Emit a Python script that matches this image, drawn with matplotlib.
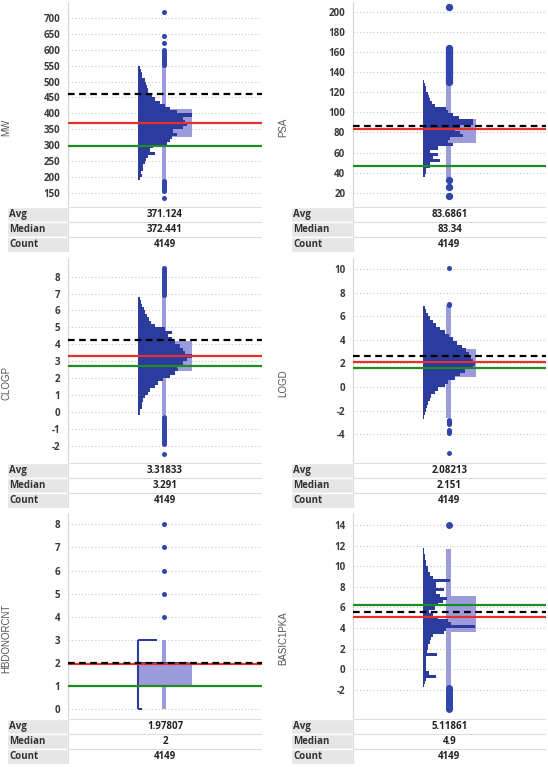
import numpy as np
import matplotlib
matplotlib.use("Agg")
import matplotlib.pyplot as plt
from matplotlib.patches import Rectangle

plt.rcParams['font.family'] = ['Open Sans', 'DejaVu Sans']
plt.rcParams['axes.unicode_minus'] = False

# ---------------- data ----------------
# histogram bin counts, bottom bin first
mw_hist = [5, 12, 8, 15, 15, 20, 22, 28, 50, 35, 45, 85, 95, 100, 115, 105, 135, 145,
           140, 135, 160, 115, 95, 80, 65, 50, 40, 30, 28, 25, 22, 20, 12, 10, 8, 6]
mw_bin = (190, 10)
psa_hist = [5, 8, 10, 20, 22, 50, 30, 45, 20, 45, 90, 75, 80, 120, 110, 95, 110, 150,
            150, 108, 90, 75, 70, 35, 28, 22, 18, 15, 10, 8, 6, 4]
psa_bin = (36, 3)
clogp_hist = [5, 6, 10, 12, 15, 20, 28, 35, 50, 60, 75, 95, 110, 120, 115, 135, 145, 160,
              140, 135, 125, 110, 100, 90, 100, 80, 50, 38, 32, 26, 20, 16, 12, 8, 5]
clogp_bin = (-0.2, 0.2)
logd_hist = [4, 6, 10, 12, 14, 20, 25, 35, 45, 65, 75, 95, 110, 125, 150, 157, 152, 145,
             140, 130, 118, 102, 90, 78, 65, 50, 38, 30, 22, 15, 10, 6]
logd_bin = (-2.7, 0.3)
hbd_values = [0, 1, 2, 3]
hbd_hist = [12, 77, 150, 55]
pka_hist = [4, 6, 8, 38, 18, 8, 8, 10, 8, 10, 42, 12, 14, 16, 20, 24, 30, 62, 70, 157,
            85, 75, 45, 30, 18, 35, 45, 60, 72, 50, 40, 62, 40, 40, 82, 30, 22, 15, 14,
            10, 8, 6, 5, 4, 3]
pka_bin = (-1.7, 0.3)

# box plot: whisker low, q1, q3, whisker high
mw_box = [191, 327, 414, 549]
psa_box = [35, 69.3, 93.2, 128]
clogp_box = [-0.19, 2.42, 4.19, 6.86]
logd_box = [-2.6, 0.88, 3.23, 6.95]
hbd_box = [0, 1.01, 2.06, 3]
pka_box = [-1.7, 3.66, 7.15, 11.64]

# outliers
mw_out = [135, 156, 160, 164, 168, 172, 176, 180, 184, 187, 553, 556, 560, 563, 567, 570,
          574, 578, 582, 586, 590, 594, 598, 622, 642, 720]
psa_out = [17, 26, 33, 130, 132, 134, 136, 138, 140, 142, 144, 146, 148, 150, 152, 154,
           156, 158, 160, 162, 164, 205]
clogp_out = [-2.5, -1.9, -1.8, -1.7, -1.6, -1.5, -1.4, -1.3, -1.2, -1.1, -1.0, -0.9, -0.8,
             -0.7, -0.6, -0.5, -0.4, -0.3, 6.9, 7.0, 7.1, 7.2, 7.3, 7.4, 7.5, 7.6, 7.7,
             7.8, 7.9, 8.0, 8.1, 8.2, 8.3, 8.4, 8.5]
logd_out = [-5.6, -3.9, -3.8, -3.7, -3.6, -3.15, -3.05, -2.95, -2.85, -2.75, 6.95, 7.05, 10.05]
hbd_out = [4, 5, 6, 7, 8]
pka_out = [-3.8, -3.7, -3.6, -3.5, -3.4, -3.3, -3.2, -3.1, -3.0, -2.9, -2.8, -2.7, -2.6,
           -2.5, -2.4, -2.3, -2.2, -2.1, -2.0, -1.9, -1.8, 14.0]

# reference lines: dashed black, average (red), green
mw_lines = [460, 371.124, 297]
psa_lines = [86, 83.6861, 47]
clogp_lines = [4.25, 3.31833, 2.7]
logd_lines = [2.6, 2.08213, 1.65]
hbd_lines = [2.0, 1.97807, 1.0]
pka_lines = [5.6, 5.11861, 6.25]

names = ["MW", "PSA", "CLOGP", "LOGD", "HBDONORCNT", "BASIC1PKA"]
avg_labels = ["371.124", "83.6861", "3.31833", "2.08213", "1.97807", "5.11861"]
median_labels = ["372.441", "83.34", "3.291", "2.151", "2", "4.9"]
count_labels = ["4149", "4149", "4149", "4149", "4149", "4149"]

mw_ticks = [150, 200, 250, 300, 350, 400, 450, 500, 550, 600, 650, 700]
psa_ticks = [20, 40, 60, 80, 100, 120, 140, 160, 180, 200]
clogp_ticks = [-2, -1, 0, 1, 2, 3, 4, 5, 6, 7, 8]
logd_ticks = [-4, -2, 0, 2, 4, 6, 8, 10]
hbd_ticks = [0, 1, 2, 3, 4, 5, 6, 7, 8]
pka_ticks = [-2, 0, 2, 4, 6, 8, 10, 12, 14]

# ---------------- layout / style ----------------
W, H = 548, 767
HIST = '#2b3c9e'
BOX = '#9c9cdc'
DOT = '#3146ad'
RED = '#e8302a'
GREEN = '#1e8c1e'
XW = 582.0
HIST_BASE, WHISK_X, WHISK_W, BOX_R = 0.363, 0.495, 0.024, 0.638


def frect(x0, y0, x1, y1):
    return [x0 / W, 1 - y1 / H, (x1 - x0) / W, (y1 - y0) / H]


def bins(hist, spec):
    start, width = spec
    return start + width * np.arange(len(hist)), width


panels = [
    dict(hist=bins(mw_hist, mw_bin), box=mw_box, out=mw_out, lines=mw_lines,
         ticks=mw_ticks, ylim=(106, 750), ms=3.6),
    dict(hist=bins(psa_hist, psa_bin), box=psa_box, out=psa_out, lines=psa_lines,
         ticks=psa_ticks, ylim=(5.7, 210), ms=5.3),
    dict(hist=bins(clogp_hist, clogp_bin), box=clogp_box, out=clogp_out, lines=clogp_lines,
         ticks=clogp_ticks, ylim=(-3.02, 9.1), ms=3.6),
    dict(hist=bins(logd_hist, logd_bin), box=logd_box, out=logd_out, lines=logd_lines,
         ticks=logd_ticks, ylim=(-6.43, 10.93), ms=3.6),
    dict(hist=(np.array(hbd_values) - 0.04, 0.08), box=hbd_box, out=hbd_out,
         lines=hbd_lines, ticks=hbd_ticks, ylim=(-0.42, 8.49), ms=3.6),
    dict(hist=bins(pka_hist, pka_bin), box=pka_box, out=pka_out, lines=pka_lines,
         ticks=pka_ticks, ylim=(-4.81, 15.16), ms=5.0),
]
hists = [mw_hist, psa_hist, clogp_hist, logd_hist, hbd_hist, pka_hist]

cols = [dict(x0=68, x1=262, lab0=7, ylab=6),
        dict(x0=353, x1=546, lab0=291, ylab=283)]
rows = [dict(top=2, bot=207, tbot=252),
        dict(top=258, bot=463, tbot=508),
        dict(top=513, bot=719, tbot=764)]

fig = plt.figure(figsize=(W / 100, H / 100), dpi=100)

for i, p in enumerate(panels):
    c = cols[i % 2]
    r = rows[i // 2]
    ax = fig.add_axes(frect(c['x0'], r['top'], c['x1'], r['bot']))
    ax.set_xlim(-HIST_BASE * XW, (1 - HIST_BASE) * XW)
    ax.set_ylim(*p['ylim'])
    for s in ['top', 'right', 'bottom']:
        ax.spines[s].set_visible(False)
    ax.spines['left'].set_color('#d6d6d6')
    ax.set_xticks([])
    ax.set_yticks(p['ticks'])
    ax.tick_params(axis='y', length=0, pad=5.5, labelsize=7, labelcolor='#3a3a3a')
    for lbl in ax.get_yticklabels():
        lbl.set_fontweight('bold')
    ax.yaxis.grid(True, linestyle=(0, (1, 2)), color='#c8c8c8', lw=0.8)
    ax.set_axisbelow(True)

    tr = ax.get_yaxis_transform()
    lo, q1, q3, hi = p['box']
    ax.add_patch(Rectangle((WHISK_X - WHISK_W / 2, lo), WHISK_W, hi - lo,
                           transform=tr, color=BOX, lw=0, zorder=2))
    box_l = HIST_BASE if i == 4 else WHISK_X - WHISK_W / 2
    ax.add_patch(Rectangle((box_l, q1), BOX_R - box_l, q3 - q1,
                           transform=tr, color=BOX, lw=0, zorder=2))

    ys, bw = p['hist']
    ax.barh(ys, hists[i], height=bw, left=0, align='edge', color=HIST, lw=0, zorder=3)
    if i == 4:
        ax.vlines(0, hbd_values[0], hbd_values[-1], color=HIST, lw=1.5, zorder=3)

    ax.plot([WHISK_X] * len(p['out']), p['out'], 'o', transform=tr, ms=p['ms'],
            color=DOT, mew=0, zorder=4)

    dash, avg, green = p['lines']
    ax.axhline(green, color=GREEN, lw=1.6, zorder=5)
    ax.axhline(avg, color=RED, lw=1.6, zorder=5)
    ax.axhline(dash, color='black', lw=1.6, ls=(0, (3, 2)), zorder=6)

    fig.text(c['ylab'] / W, 1 - ((r['top'] + r['tbot']) / 2) / H, names[i],
             rotation=90, ha='center', va='center', fontsize=7, color='#555555',
             family=['Liberation Sans', 'DejaVu Sans'])

    # stats table
    tab = fig.add_axes(frect(c['lab0'], r['bot'], c['x1'], r['tbot']))
    tab.set_xlim(c['lab0'], c['x1'])
    tab.set_ylim(r['tbot'], r['bot'])
    tab.axis('off')
    rh = (r['tbot'] - r['bot']) / 3
    for k, (lab, val) in enumerate(zip(["Avg", "Median", "Count"],
                                       [avg_labels[i], median_labels[i], count_labels[i]])):
        y0 = r['bot'] + k * rh
        tab.add_patch(Rectangle((c['lab0'], y0), c['x0'] - c['lab0'], rh,
                                facecolor='#e6e6e6', edgecolor='white', lw=1))
        tab.add_patch(Rectangle((c['x0'], y0), c['x1'] - c['x0'], rh,
                                facecolor='white', edgecolor='#dedede', lw=0.8))
        tab.text(c['lab0'] + 2, y0 + rh / 2, lab, ha='left', va='center', fontsize=7,
                 fontweight='bold', color='#333333')
        tab.text((c['x0'] + c['x1']) / 2, y0 + rh / 2, val, ha='center', va='center',
                 fontsize=7, fontweight='bold', color='#222222')

fig.savefig("out.png", dpi=100)
